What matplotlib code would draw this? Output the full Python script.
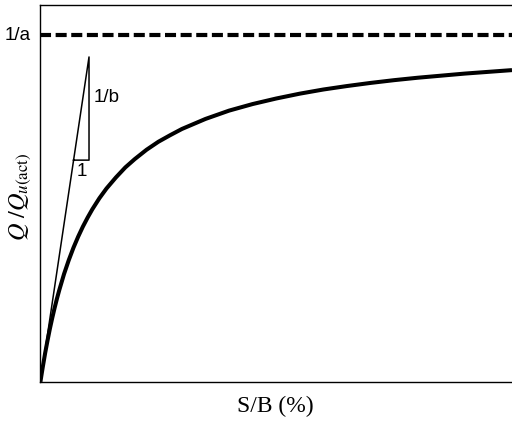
import matplotlib.pyplot as plt

# curve (x: S/B scaled 0..1, y: Q/Qu scaled so 1/a = 1)
sb = [0.0, 0.001, 0.0025, 0.005, 0.0075, 0.01, 0.015, 0.02, 0.025, 0.03, 0.035,
      0.04, 0.045, 0.05, 0.06, 0.07, 0.08, 0.09, 0.1, 0.11, 0.125, 0.14, 0.16,
      0.18, 0.2, 0.225, 0.25, 0.275, 0.3, 0.35, 0.4, 0.45, 0.5, 0.55, 0.6,
      0.65, 0.7, 0.75, 0.8, 0.85, 0.9, 0.95, 1.0]
q = [0.0, 0.009, 0.022, 0.043, 0.063, 0.083, 0.119, 0.153, 0.184, 0.213, 0.240,
     0.265, 0.288, 0.311, 0.351, 0.387, 0.419, 0.448, 0.474, 0.498, 0.530, 0.558, 0.590,
     0.619, 0.643, 0.670, 0.693, 0.712, 0.730, 0.759, 0.783, 0.802, 0.818, 0.832, 0.844,
     0.854, 0.863, 0.871, 0.878, 0.884, 0.890, 0.895, 0.900]
asymptote = 1.0
slope_x = [0.0, 0.103, 0.103, 0.070]
slope_y = [0.0, 0.938, 0.640, 0.640]

plt.rcParams['mathtext.fontset'] = 'stix'
fig = plt.figure(figsize=(5.12, 4.21), dpi=100)
ax = fig.add_axes([0.079, 0.0933, 0.921, 0.896])

ax.plot(sb, q, color='black', linewidth=2.9, solid_capstyle='butt', solid_joinstyle='round')
ax.axhline(asymptote, color='black', linewidth=3.0, linestyle=(0, (2.65, 1.1)))
ax.plot(slope_x, slope_y, color='black', linewidth=1.1)

ax.text(0.113, 0.822, '1/b', fontsize=13.5, family='Liberation Sans', va='center', ha='left')
ax.text(0.087, 0.607, '1', fontsize=13.5, family='Liberation Sans', va='center', ha='center')

ax.set_xlim(0, 1)
ax.set_ylim(0, 1.0895)
ax.set_xticks([])
ax.set_yticks([])
ax.spines['right'].set_visible(False)
for s in ['left', 'top', 'bottom']:
    ax.spines[s].set_linewidth(1.0)

fig.text(31 / 512, (421 - 35.5) / 421, '1/a', fontsize=13.5, family='Liberation Sans',
         ha='right', va='center')
fig.text(275 / 512, 1 - 406 / 421, 'S/B (%)', fontsize=17, family='Liberation Serif',
         ha='center', va='center')
fig.text(20 / 512, 1 - 197 / 421, r'$Q\ /Q_{u(\mathrm{act})}$', fontsize=17.5,
         rotation=90, ha='center', va='center')

fig.savefig('out.png', dpi=100)
